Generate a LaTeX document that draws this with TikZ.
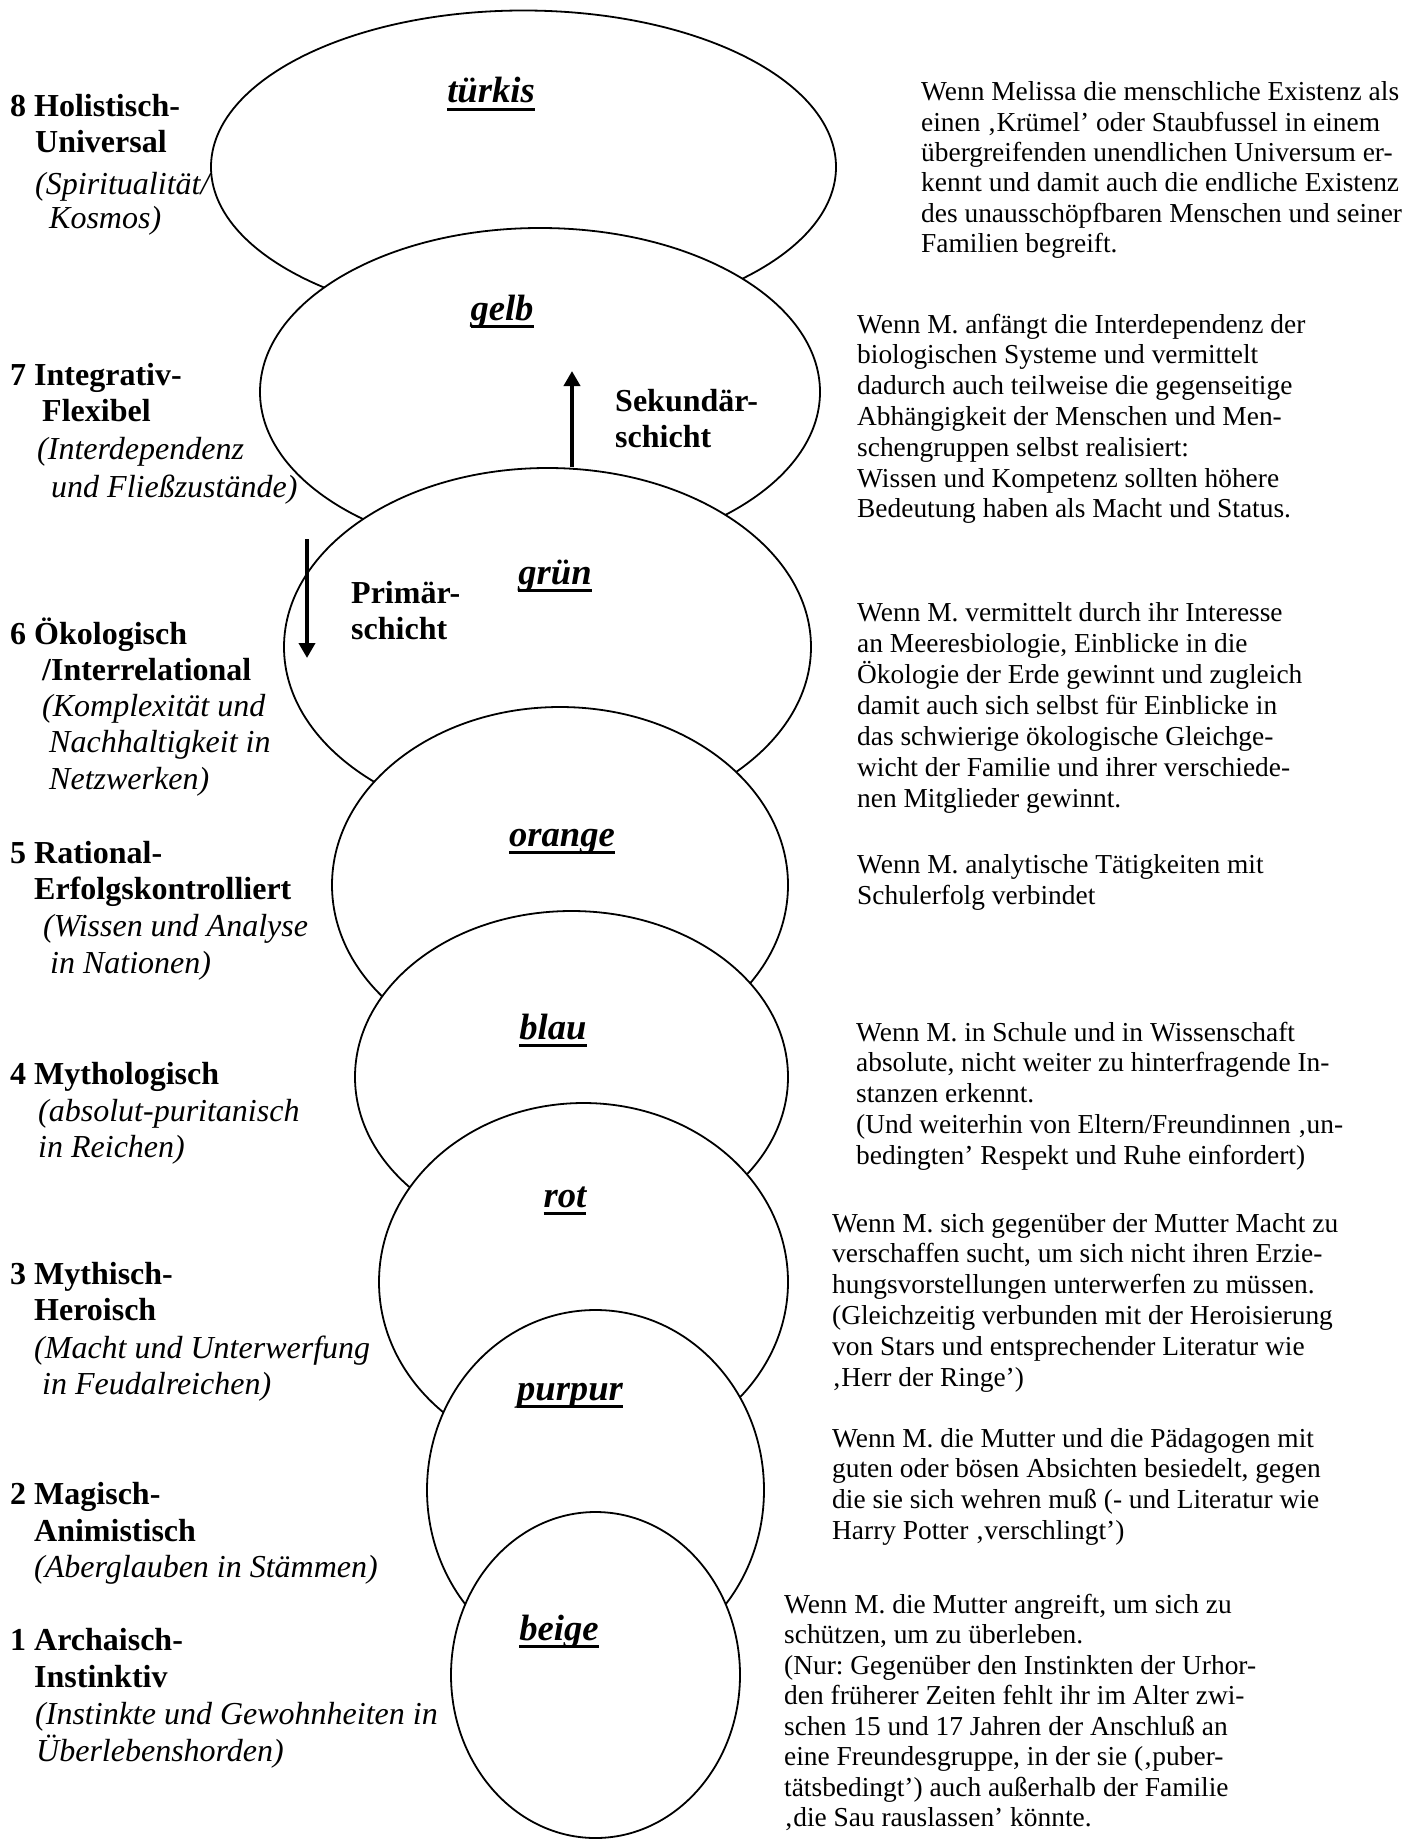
\documentclass[tikz,border=0pt]{standalone}
\usepackage{fontspec}
\setmainfont{Liberation Serif}
\usetikzlibrary{shapes.geometric,arrows.meta}
\frenchspacing
\newcommand\ulbl[1]{\setbox0=\hbox{#1}\rlap{\rule[-8pt]{\wd0}{3pt}}\box0}
\tikzset{
  ell/.style={ellipse, draw, line width=1.8pt, fill=white, inner sep=0pt},
  lab/.style={font=\fontsize{36.6}{40}\selectfont\bfseries\itshape, inner sep=0pt, anchor=base},
  lb/.style={font=\fontsize{32}{36}\selectfont\bfseries, inner sep=0pt, anchor=base west},
  li/.style={font=\fontsize{32}{36}\selectfont\itshape, inner sep=0pt, anchor=base west},
  rt/.style={font=\fontsize{27.4}{31}\selectfont\frenchspacing, inner sep=0pt, anchor=base west},
  arr/.style={line width=4pt, -{Triangle[length=15pt,width=16pt]}},
}
\begin{document}
\begin{tikzpicture}[x=1pt,y=-1pt]
\fill[white] (0,0) rectangle (1407,1841);
\useasboundingbox (0,0) rectangle (1407,1841);

% ellipses, top to bottom, each over the previous
\node[ell, minimum width=625pt, minimum height=313pt] (tuerkis) at (523.5,167) {};
\node[lab] (ltuerkis) at (491,103) {\ulbl{türkis}};
\node[ell, minimum width=560pt, minimum height=328pt] (gelb) at (540,392) {};
\node[lab] (lgelb) at (502,320) {\ulbl{gelb}};
\node[ell, minimum width=527pt, minimum height=358pt] (gruen) at (547.5,647) {};
\node[lab] (lgruen) at (555,584) {\ulbl{grün}};
\node[ell, minimum width=456pt, minimum height=356pt] (orange) at (560,885) {};
\node[lab] (lorange) at (562,846) {\ulbl{orange}};
\node[ell, minimum width=433pt, minimum height=332pt] (blau) at (571.5,1077) {};
\node[lab] (lblau) at (553,1039) {\ulbl{blau}};
\node[ell, minimum width=409pt, minimum height=358pt] (rot) at (583.5,1282) {};
\node[lab] (lrot) at (565,1207) {\ulbl{rot}};
\node[ell, minimum width=337pt, minimum height=360pt] (purpur) at (595.5,1490) {};
\node[lab] (lpurpur) at (570,1400) {\ulbl{purpur}};
\node[ell, minimum width=289pt, minimum height=326pt] (beige) at (595.5,1675) {};
\node[lab] (lbeige) at (559,1640) {\ulbl{beige}};

% arrows
\coordinate (sekTip) at (572,371);
\draw[arr] (gruen.north -| sekTip) -- (sekTip);
\coordinate (primTop) at (307,539);
\coordinate (primTip) at (307,658);
\draw[arr] (primTop) -- (primTip);
\node[lb] (sek1) at (615,411) {Sekundär-};
\node[lb] (sek2) at (615,447) {schicht};
\node[lb] (prim1) at (351,603) {Primär-};
\node[lb] (prim2) at (351,639) {schicht};

% left labels
\node[lb] (l8a) at (10,117) {8 Holistisch-};
\node[lb] (l8b) at (35,153) {Universal};
\node[li] (l8c) at (35,194) {(Spiritualität/};
\node[li] (l8d) at (49,228) {Kosmos)};
\node[lb] (l7a) at (10,385) {7 Integrativ-};
\node[lb] (l7b) at (42,421) {Flexibel};
\node[li] (l7c) at (37,459) {(Interdependenz};
\node[li] (l7d) at (51,497) {und Fließzustände)};
\node[lb] (l6a) at (10,644) {6 Ökologisch};
\node[lb] (l6b) at (42,680) {/Interrelational};
\node[li] (l6c) at (42,716) {(Komplexität und};
\node[li] (l6d) at (49,752) {Nachhaltigkeit in};
\node[li] (l6e) at (49,789) {Netzwerken)};
\node[lb] (l5a) at (10,863) {5 Rational-};
\node[lb] (l5b) at (34,899) {Erfolgskontrolliert};
\node[li] (l5c) at (43,936) {(Wissen und Analyse};
\node[li] (l5d) at (50,973) {in Nationen)};
\node[lb] (l4a) at (10,1084) {4 Mythologisch};
\node[li] (l4b) at (38,1121) {(absolut-puritanisch};
\node[li] (l4c) at (38,1157) {in Reichen)};
\node[lb] (l3a) at (10,1284) {3 Mythisch-};
\node[lb] (l3b) at (34,1320) {Heroisch};
\node[li] (l3c) at (34,1358) {(Macht und Unterwerfung};
\node[li] (l3d) at (42,1394) {in Feudalreichen)};
\node[lb] (l2a) at (10,1504) {2 Magisch-};
\node[lb] (l2b) at (34,1541) {Animistisch};
\node[li] (l2c) at (34,1577) {(Aberglauben in Stämmen)};
\node[lb] (l1a) at (10,1650) {1 Archaisch-};
\node[lb] (l1b) at (34,1687) {Instinktiv};
\node[li] (l1c) at (35,1724) {(Instinkte und Gewohnheiten in};
\node[li] (l1d) at (36,1761) {Überlebenshorden)};

% right paragraphs
\foreach \t [count=\i from 0] in {{Wenn Melissa die menschliche Existenz als},{einen ‚Krümel’ oder Staubfussel in einem},{übergreifenden unendlichen Universum er-},{kennt und damit auch die endliche Existenz},{des unausschöpfbaren Menschen und seiner},{Familien begreift.}}
  \node[rt] (p8-\i) at (921,{101+30.3*\i}) {\t};
\foreach \t [count=\i from 0] in {{Wenn M. anfängt die Interdependenz der},{biologischen Systeme und vermittelt},{dadurch auch teilweise die gegenseitige},{Abhängigkeit der Menschen und Men-},{schengruppen selbst realisiert:},{Wissen und Kompetenz sollten höhere},{Bedeutung haben als Macht und Status.}}
  \node[rt] (p7-\i) at (857,{333+30.8*\i}) {\t};
\foreach \t [count=\i from 0] in {{Wenn M. vermittelt durch ihr Interesse},{an Meeresbiologie, Einblicke in die},{Ökologie der Erde gewinnt und zugleich},{damit auch sich selbst für Einblicke in},{das schwierige ökologische Gleichge-},{wicht der Familie und ihrer verschiede-},{nen Mitglieder gewinnt.}}
  \node[rt] (p6-\i) at (857,{621+31*\i}) {\t};
\foreach \t [count=\i from 0] in {{Wenn M. analytische Tätigkeiten mit},{Schulerfolg verbindet}}
  \node[rt] (p5-\i) at (857,{873+31*\i}) {\t};
\foreach \t [count=\i from 0] in {{Wenn M. in Schule und in Wissenschaft},{absolute, nicht weiter zu hinterfragende In-},{stanzen erkennt.},{(Und weiterhin von Eltern/Freundinnen ‚un-},{bedingten’ Respekt und Ruhe einfordert)}}
  \node[rt] (p4-\i) at (856,{1041+30.8*\i}) {\t};
\foreach \t [count=\i from 0] in {{Wenn M. sich gegenüber der Mutter Macht zu},{verschaffen sucht, um sich nicht ihren Erzie-},{hungsvorstellungen unterwerfen zu müssen.},{(Gleichzeitig verbunden mit der Heroisierung},{von Stars und entsprechender Literatur wie},{‚Herr der Ringe’)}}
  \node[rt] (p3-\i) at (832,{1232+30.8*\i}) {\t};
\foreach \t [count=\i from 0] in {{Wenn M. die Mutter und die Pädagogen mit},{guten oder bösen Absichten besiedelt, gegen},{die sie sich wehren muß (- und Literatur wie},{Harry Potter ‚verschlingt’)}}
  \node[rt] (p2-\i) at (832,{1447+30.7*\i}) {\t};
\foreach \t [count=\i from 0] in {{Wenn M. die Mutter angreift, um sich zu},{schützen, um zu überleben.},{(Nur: Gegenüber den Instinkten der Urhor-},{den früherer Zeiten fehlt ihr im Alter zwi-},{schen 15 und 17 Jahren der Anschluß an},{eine Freundesgruppe, in der sie (‚puber-},{tätsbedingt’) auch außerhalb der Familie},{‚die Sau rauslassen’ könnte.}}
  \node[rt] (p1-\i) at (784,{1613+30.5*\i}) {\t};
\end{tikzpicture}
\end{document}
